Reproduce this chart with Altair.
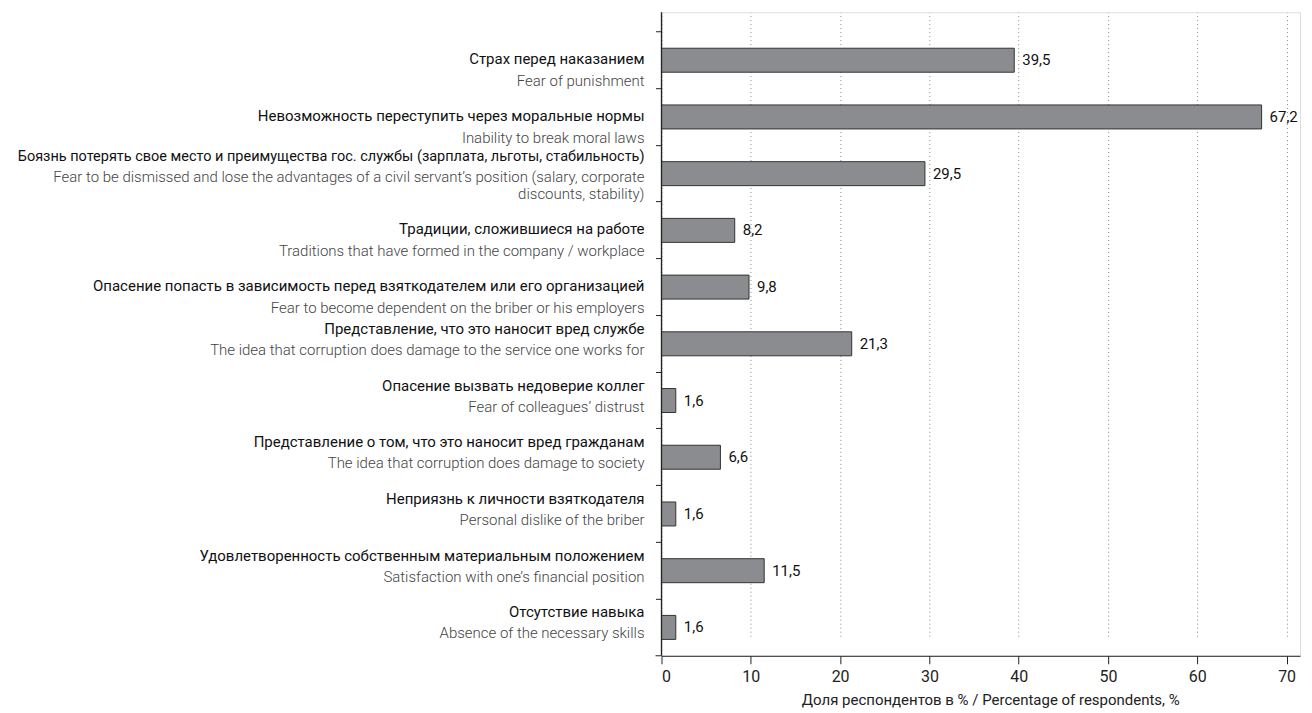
import altair as alt
import pandas as pd

labels_ru = [
    "Страх перед наказанием",
    "Невозможность переступить через моральные нормы",
    "Боязнь потерять свое место и преимущества гос. службы (зарплата, льготы, стабильность)",
    "Традиции, сложившиеся на работе",
    "Опасение попасть в зависимость перед взяткодателем или его организацией",
    "Представление, что это наносит вред службе",
    "Опасение вызвать недоверие коллег",
    "Представление о том, что это наносит вред гражданам",
    "Неприязнь к личности взяткодателя",
    "Удовлетворенность собственным материальным положением",
    "Отсутствие навыка",
]
labels_en = [
    "Fear of punishment",
    "Inability to break moral laws",
    "Fear to be dismissed and lose the advantages of a civil servant’s position (salary, corporate\ndiscounts, stability)",
    "Traditions that have formed in the company / workplace",
    "Fear to become dependent on the briber or his employers",
    "The idea that corruption does damage to the service one works for",
    "Fear of colleagues’ distrust",
    "The idea that corruption does damage to society",
    "Personal dislike of the briber",
    "Satisfaction with one’s financial position",
    "Absence of the necessary skills",
]
values = [39.5, 67.2, 29.5, 8.2, 9.8, 21.3, 1.6, 6.6, 1.6, 11.5, 1.6]
x_ticks = [0, 10, 20, 30, 40, 50, 60, 70]
upper_rows = [0, 1, 3, 4]
wrapped_rows = [2]
x_title = "Доля респондентов в % / Percentage of respondents, %"

FONT = "Roboto"
W, H = 639, 644
FS = 15

df = pd.DataFrame({
    "ru": labels_ru,
    "en": labels_en,
    "value": values,
    "grp": ["a" if i in upper_rows else ("c" if i in wrapped_rows else "b")
            for i in range(len(values))],
})
df["vlabel"] = [f"{v:.1f}".replace(".", ",") for v in values]

yscale = alt.Scale(domain=labels_ru, range=[19.6, H], paddingInner=0, paddingOuter=0)
y_enc = alt.Y("ru:N", scale=yscale, sort=labels_ru,
              axis=alt.Axis(labels=False, title=None, domain=False, ticks=True,
                            tickSize=6, tickColor="#222", bandPosition=0, grid=False))
x_enc = alt.X("value:Q", scale=alt.Scale(domain=[0, 71.5], nice=False, zero=True),
              axis=alt.Axis(values=x_ticks, grid=True, gridDash=[1, 3], gridColor="#8a8a8a",
                            gridWidth=1, tickColor="#222", domainColor="#222", tickSize=8,
                            labelFontSize=16, labelFont=FONT, labelColor="#222",
                            labelPadding=5, title=x_title, titleFont=FONT,
                            titleFontSize=15, titleFontWeight="normal", titleColor="#222",
                            titleX=329, titleY=44, titleBaseline="middle"))

base = alt.Chart(df)
yy = alt.Y("ru:N", sort=labels_ru)

bars = base.mark_bar(size=24, fill="#8b8c8f", stroke="#333", strokeWidth=1).encode(
    x=x_enc, y=y_enc)

vals = base.mark_text(align="left", baseline="middle", dx=8, font=FONT, fontSize=FS,
                      color="#111").encode(x="value:Q", y=yy, text="vlabel:N")


def ru_layer(grp, dy, size=FS):
    return base.transform_filter(f"datum.grp == '{grp}'").mark_text(
        align="right", baseline="middle", dy=dy, font=FONT, fontSize=size, color="#111"
    ).encode(x=alt.value(-17), y=yy, text="ru:N")


def en_layer(grp, dy):
    return base.transform_filter(f"datum.grp == '{grp}'").mark_text(
        align="right", baseline="middle", dy=dy, font=FONT, fontSize=FS, fontWeight=300,
        color="#444", lineBreak="\n", lineHeight=17
    ).encode(x=alt.value(-17), y=yy, text="en:N")


ru_a = ru_layer("a", -1)
en_a = en_layer("a", 21)
ru_b = ru_layer("b", -15)
en_b = en_layer("b", 6)
ru_c = ru_layer("c", -17, 14.5)
en_c = en_layer("c", 3)

axis_line = alt.Chart(pd.DataFrame({"k": [0]})).mark_rule(color="#222", strokeWidth=1.3).encode(
    x=alt.value(0), y=alt.value(0), y2=alt.value(H))
bottom_tick = alt.Chart(pd.DataFrame({"k": [0]})).mark_rule(color="#222", strokeWidth=1).encode(
    x=alt.value(-6), x2=alt.value(0), y=alt.value(H))

chart = alt.layer(bars, vals, ru_a, en_a, ru_b, en_b, ru_c, en_c, axis_line, bottom_tick).properties(
    width=W, height=H,
    autosize=alt.AutoSizeParams(type="none"),
    padding={"left": 654, "top": 4, "right": 4, "bottom": 57},
).configure_view(stroke=None).configure(font=FONT)

chart.save("out.html", embed_options={"renderer": "svg", "actions": False})
